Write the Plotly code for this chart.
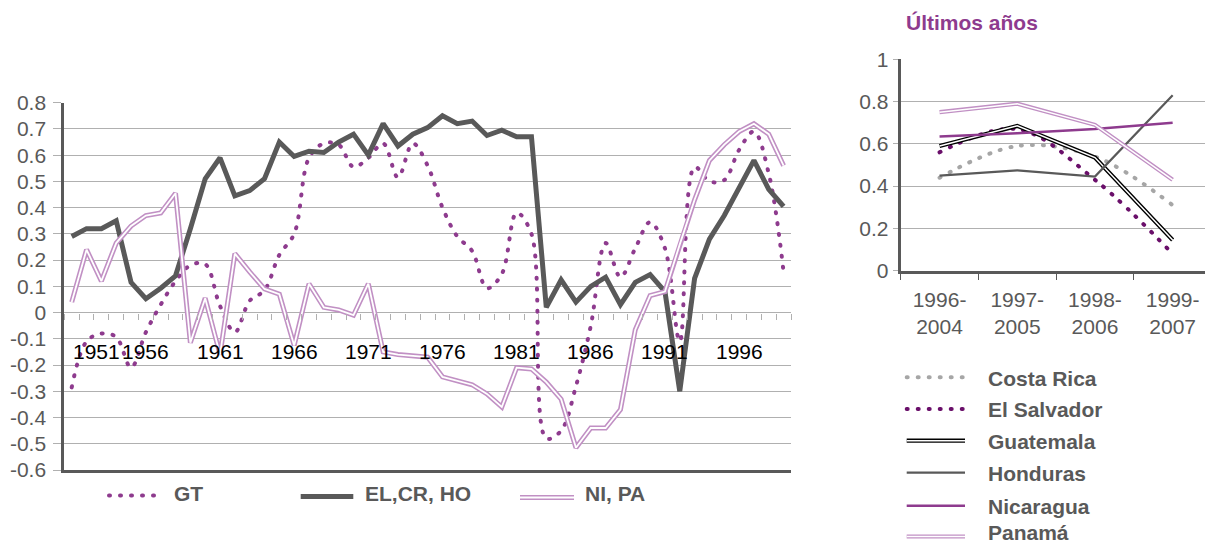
import plotly.graph_objects as go

# ---------------- data: left chart ----------------
years = list(range(1951, 2000))
year_labels = [1951, 1956, 1961, 1966, 1971, 1976, 1981, 1986, 1991, 1996]

gt = [-0.285, -0.11, -0.08, -0.093, -0.21, -0.075, 0.03, 0.12, 0.18, 0.185,
      0.025, -0.075, 0.045, 0.085, 0.22, 0.30, 0.59, 0.645, 0.64, 0.555,
      0.59, 0.645, 0.515, 0.645, 0.56, 0.40, 0.29, 0.235, 0.093, 0.147,
      0.38, 0.30, -0.48, -0.45, -0.28, -0.05, 0.265, 0.135, 0.245, 0.345,
      0.245, -0.11, 0.555, 0.50, 0.505, 0.62, 0.69, 0.53, 0.155]

el_cr_ho = [0.29, 0.32, 0.32, 0.35, 0.115, 0.053, 0.093, 0.14, 0.32, 0.51,
            0.59, 0.445, 0.465, 0.51, 0.65, 0.595, 0.615, 0.61, 0.65, 0.68,
            0.60, 0.72, 0.635, 0.68, 0.705, 0.75, 0.72, 0.73, 0.675, 0.695,
            0.67, 0.67, 0.02, 0.125, 0.04, 0.10, 0.135, 0.03, 0.115, 0.145,
            0.08, -0.30, 0.13, 0.28, 0.37, 0.48, 0.58, 0.47, 0.405]

ni_pa = [0.04, 0.24, 0.12, 0.265, 0.33, 0.37, 0.38, 0.455, -0.115, 0.055,
         -0.16, 0.225, 0.155, 0.09, 0.07, -0.125, 0.11, 0.02, 0.01, -0.01,
         0.11, -0.15, -0.16, -0.165, -0.17, -0.245, -0.26, -0.275, -0.31, -0.36,
         -0.21, -0.215, -0.265, -0.33, -0.515, -0.44, -0.44, -0.37, -0.065, 0.065,
         0.08, 0.26, 0.43, 0.58, 0.64, 0.69, 0.72, 0.68, 0.56]

left_yticks = [-0.6, -0.5, -0.4, -0.3, -0.2, -0.1, 0, 0.1, 0.2, 0.3, 0.4, 0.5, 0.6, 0.7, 0.8]
left_legend = ["GT", "EL,CR, HO", "NI, PA"]

# ---------------- data: right chart ----------------
periods = ["1996-2004", "1997-2005", "1998-2006", "1999-2007"]
costa_rica = [0.44, 0.59, 0.54, 0.31]
el_salvador = [0.56, 0.67, 0.43, 0.08]
guatemala = [0.59, 0.685, 0.535, 0.145]
honduras = [0.45, 0.475, 0.445, 0.83]
nicaragua = [0.635, 0.65, 0.67, 0.70]
panama = [0.75, 0.79, 0.69, 0.43]
right_yticks = [0, 0.2, 0.4, 0.6, 0.8, 1]
right_title = "Últimos años"

# ---------------- styles ----------------
W, H = 1205, 546
FONT = "Liberation Sans, Arial, sans-serif"
PURPLE = "#8E3B8E"
DARKPURPLE = "#6A0F6A"
LIGHTPURPLE = "#C190C4"
DARK = "#595959"
GRID = "#B0B0B0"
LGRAY = "#A6A6A6"
TXT = "#595959"
DOT = "1px,10px"


def fx(px):
    return px / W


def fy(py):
    return 1 - py / H


L_X0, L_X1 = 64.3, 791.0
L_YT, L_YB = 102.7, 470.0
R_X0 = 900.7
R_YT, R_YB = 59.3, 270.7
CAT_W = 77.7

zero_pos = fy(L_YB) + (0 - (-0.6)) / 1.4 * (fy(L_YT) - fy(L_YB))

fig = go.Figure()

# left chart traces
fig.add_trace(go.Scatter(x=years, y=gt, mode="lines", name=left_legend[0],
                         line=dict(color=PURPLE, width=4, dash=DOT, shape="spline"),
                         showlegend=False, xaxis="x", yaxis="y"))
fig.add_trace(go.Scatter(x=years, y=el_cr_ho, mode="lines", name=left_legend[1],
                         line=dict(color=DARK, width=5),
                         showlegend=False, xaxis="x", yaxis="y"))
fig.add_trace(go.Scatter(x=years, y=ni_pa, mode="lines", name=left_legend[2],
                         line=dict(color=LIGHTPURPLE, width=5),
                         showlegend=False, xaxis="x", yaxis="y"))
fig.add_trace(go.Scatter(x=years, y=ni_pa, mode="lines", name=left_legend[2] + " (inner)",
                         line=dict(color="white", width=1.8),
                         showlegend=False, hoverinfo="skip", xaxis="x", yaxis="y"))
# helper (empty) trace so the zero-crossing tick axis is drawn
fig.add_trace(go.Scatter(x=[], y=[], mode="lines", showlegend=False,
                         hoverinfo="skip", xaxis="x3", yaxis="y"))

# right chart traces
period_cats = [p.replace("-", "-<br>") for p in periods]
right_series = [
    ("Costa Rica", costa_rica, dict(color=LGRAY, width=4, dash=DOT, shape="spline"), None),
    ("El Salvador", el_salvador, dict(color=DARKPURPLE, width=4, dash=DOT, shape="spline"), None),
    ("Guatemala", guatemala, dict(color="black", width=4.2), 1.5),
    ("Honduras", honduras, dict(color=DARK, width=2.2), None),
    ("Nicaragua", nicaragua, dict(color=PURPLE, width=2.5), None),
    ("Panamá", panama, dict(color=LIGHTPURPLE, width=4.2), 1.5),
]
for name, vals, ln, inner in right_series:
    fig.add_trace(go.Scatter(x=period_cats, y=vals, mode="lines", name=name,
                             line=ln, showlegend=False, xaxis="x2", yaxis="y2"))
    if inner:
        fig.add_trace(go.Scatter(x=period_cats, y=vals, mode="lines", name=name + " (inner)",
                                 line=dict(color="white", width=inner), showlegend=False,
                                 hoverinfo="skip", xaxis="x2", yaxis="y2"))

annotations = []
shapes = []

# left x labels (axis crosses at zero, labels just below it)
label_shift = {1951: 25}
for yr in year_labels:
    annotations.append(dict(x=yr, y=0, xref="x", yref="y", text=str(yr),
                            showarrow=False, xanchor="center", yanchor="middle",
                            yshift=-39, xshift=label_shift.get(yr, 0),
                            font=dict(family=FONT, size=21, color="black")))

# left legend
left_leg_layout = [  # (x0, x1, y_symbol, x_text)
    (109, 163, 495.5, 172),
    (300.7, 353.3, 496.5, 363.3),
    (520, 574, 497.5, 582.7),
]
left_styles = [
    [dict(color=PURPLE, width=4, dash=DOT)],
    [dict(color=DARK, width=5)],
    [dict(color=LIGHTPURPLE, width=5), dict(color="white", width=1.8)],
]
for name, (x0, x1, ys, xt), sty in zip(left_legend, left_leg_layout, left_styles):
    for s in sty:
        shapes.append(dict(type="line", xref="paper", yref="paper",
                           x0=fx(x0), x1=fx(x1), y0=fy(ys), y1=fy(ys), line=s))
    annotations.append(dict(x=fx(xt), y=fy(493.5), xref="paper", yref="paper",
                            text="<b>" + name + "</b>", showarrow=False,
                            xanchor="left", yanchor="middle",
                            font=dict(family=FONT, size=21, color=TXT)))

# right legend
row_y = [377.3, 409, 440.7, 472.7, 505.7, 536.5]
for (name, vals, ln, inner), ys in zip(right_series, row_y):
    s = dict(color=ln["color"], width=ln["width"])
    if "dash" in ln:
        s["dash"] = ln["dash"]
    shapes.append(dict(type="line", xref="paper", yref="paper",
                       x0=fx(906.7), x1=fx(965), y0=fy(ys), y1=fy(ys), line=s))
    if inner:
        shapes.append(dict(type="line", xref="paper", yref="paper",
                           x0=fx(906.7), x1=fx(965), y0=fy(ys), y1=fy(ys),
                           line=dict(color="white", width=inner)))
    annotations.append(dict(x=fx(987.3), y=fy(min(ys + 0.8, 532.5)), xref="paper", yref="paper",
                            text="<b>" + name + "</b>", showarrow=False,
                            xanchor="left", yanchor="middle", borderpad=0,
                            font=dict(family=FONT, size=21, color=TXT)))

# right title
annotations.append(dict(x=fx(904), y=fy(23), xref="paper", yref="paper",
                        text="<b>" + right_title + "</b>", showarrow=False,
                        xanchor="left", yanchor="middle",
                        font=dict(family=FONT, size=21, color=PURPLE)))

fig.update_layout(
    width=W, height=H,
    template="none",
    margin=dict(l=0, r=0, t=0, b=0, pad=0),
    paper_bgcolor="white", plot_bgcolor="white",
    font=dict(family=FONT, color=TXT),
    showlegend=False,
    xaxis=dict(domain=[fx(L_X0), fx(L_X1)], range=[1950.5, 1999.5], anchor="y",
               showgrid=False, zeroline=False, showline=True, linecolor=DARK,
               linewidth=3, ticks="", showticklabels=False, automargin=False),
    xaxis3=dict(overlaying="x", range=[1950.5, 1999.5], anchor="free", position=zero_pos,
                tickmode="linear", tick0=1950.5, dtick=1, ticks="outside", ticklen=6,
                tickwidth=1, tickcolor=GRID, showticklabels=False, showgrid=False,
                zeroline=False, showline=False, automargin=False),
    yaxis=dict(domain=[fy(L_YB), fy(L_YT)], range=[-0.6, 0.8], anchor="x",
               tickmode="array", tickvals=left_yticks,
               ticktext=[("%g" % v) for v in left_yticks],
               showgrid=True, gridcolor=GRID, gridwidth=1, zeroline=False,
               showline=True, linecolor=DARK, linewidth=3,
               ticks="outside", ticklen=8, tickcolor=GRID, tickwidth=1,
               ticklabelstandoff=3,
               tickfont=dict(family=FONT, size=21, color=TXT), automargin=False),
    xaxis2=dict(domain=[fx(R_X0), 1.0], range=[-0.5, -0.5 + (W - R_X0) / CAT_W],
                type="category", anchor="y2", tickson="boundaries",
                ticks="outside", ticklen=6, tickcolor=DARK, tickwidth=1,
                ticklabelstandoff=8,
                showgrid=False, zeroline=False, showline=True, linecolor=DARK, linewidth=3,
                tickfont=dict(family=FONT, size=21, color=TXT), automargin=False),
    yaxis2=dict(domain=[fy(R_YB), fy(R_YT)], range=[0, 1], anchor="x2",
                tickmode="array", tickvals=right_yticks,
                ticktext=[("%g" % v) for v in right_yticks],
                showgrid=True, gridcolor=GRID, gridwidth=1, zeroline=False,
                showline=True, linecolor=DARK, linewidth=3,
                ticks="outside", ticklen=5, tickcolor=GRID, tickwidth=1,
                tickfont=dict(family=FONT, size=21, color=TXT), automargin=False),
    annotations=annotations,
    shapes=shapes,
)

post = """
document.body.style.margin = '0';
document.body.style.padding = '0';
document.body.style.overflow = 'hidden';
var gd = document.getElementById('{plot_id}');
function roundDots(){
  document.querySelectorAll('path').forEach(function(p){
    var d = p.style.strokeDasharray;
    if (d && d.indexOf(',') >= 0) { p.style.strokeLinecap = 'round'; }
  });
}
roundDots();
if (gd && gd.on) { gd.on('plotly_afterplot', roundDots); }
setTimeout(roundDots, 50);
setTimeout(roundDots, 300);
"""

fig.write_html("out.html", post_script=post, config={"displayModeBar": False})
